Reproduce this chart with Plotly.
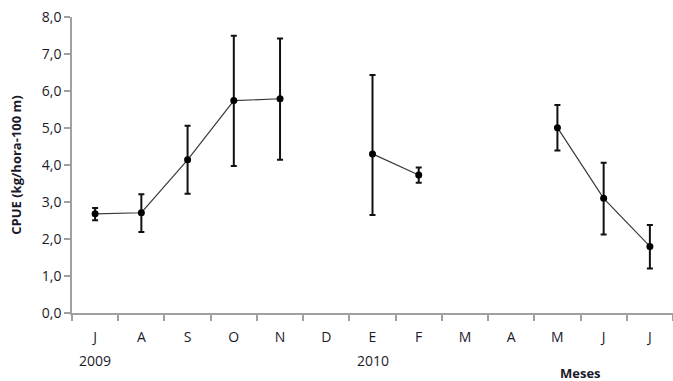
import plotly.graph_objects as go

months = ["J", "A", "S", "O", "N", "D", "E", "F", "M", "A", "M", "J", "J"]
cpue = [2.68, 2.71, 4.14, 5.74, 5.79, None, 4.30, 3.73, None, None, 5.01, 3.10, 1.80]
err_plus = [0.16, 0.50, 0.92, 1.75, 1.63, None, 2.13, 0.20, None, None, 0.61, 0.96, 0.58]
err_minus = [0.17, 0.52, 0.92, 1.77, 1.65, None, 1.65, 0.21, None, None, 0.62, 0.98, 0.60]
y_ticks = [0, 1, 2, 3, 4, 5, 6, 7, 8]
y_ticktext = ["0,0", "1,0", "2,0", "3,0", "4,0", "5,0", "6,0", "7,0", "8,0"]
years = [("2009", 0), ("2010", 6)]

x = list(range(len(months)))

fig = go.Figure()
fig.add_trace(go.Scatter(
    x=x, y=cpue, mode="lines+markers", connectgaps=False,
    line=dict(color="#3a3a3a", width=1.2),
    marker=dict(color="black", size=7),
    error_y=dict(type="data", symmetric=False, array=err_plus, arrayminus=err_minus,
                 color="#111", thickness=2, width=3),
    showlegend=False,
))

font = "Open Sans, Liberation Sans, sans-serif"
fig.update_layout(
    width=673, height=381,
    margin=dict(l=72, r=0, t=17, b=68, autoexpand=False),
    plot_bgcolor="white", paper_bgcolor="white",
    font=dict(family=font, size=14, color="#1a1a2a"),
    xaxis=dict(
        range=[-0.5, 12.5], tickvals=x, ticktext=months, ticks="", showgrid=False,
        showline=True, linecolor="#a0a0a0", linewidth=1.5, zeroline=False,
        tickfont=dict(size=14), ticklabelstandoff=10, automargin=False,
        minor=dict(tickvals=[i - 0.5 for i in range(len(months) + 1)], ticks="outside",
                   ticklen=6, tickcolor="#a0a0a0", tickwidth=1.5, showgrid=False),
    ),
    yaxis=dict(
        range=[0, 8], tickvals=y_ticks, ticktext=y_ticktext, ticks="outside",
        ticklen=6, tickcolor="#a0a0a0", tickwidth=1.5, showgrid=False,
        showline=True, linecolor="#a0a0a0", linewidth=1.5, zeroline=False,
        tickfont=dict(size=14), automargin=False,
        title=dict(text="<b>CPUE (kg/hora-100 m)</b>", font=dict(size=13), standoff=17),
    ),
)

for label, pos in years:
    fig.add_annotation(x=pos, y=-0.159, xref="x", yref="paper", text=label,
                       showarrow=False, font=dict(size=14), yanchor="middle")
fig.add_annotation(x=10.5, y=-0.203, xref="x", yref="paper", text="<b>Meses</b>",
                   showarrow=False, font=dict(size=13), yanchor="middle")

fig.write_html("out.html", config={"displayModeBar": False},
               post_script="document.body.style.margin='0';document.body.style.overflow='hidden';")
